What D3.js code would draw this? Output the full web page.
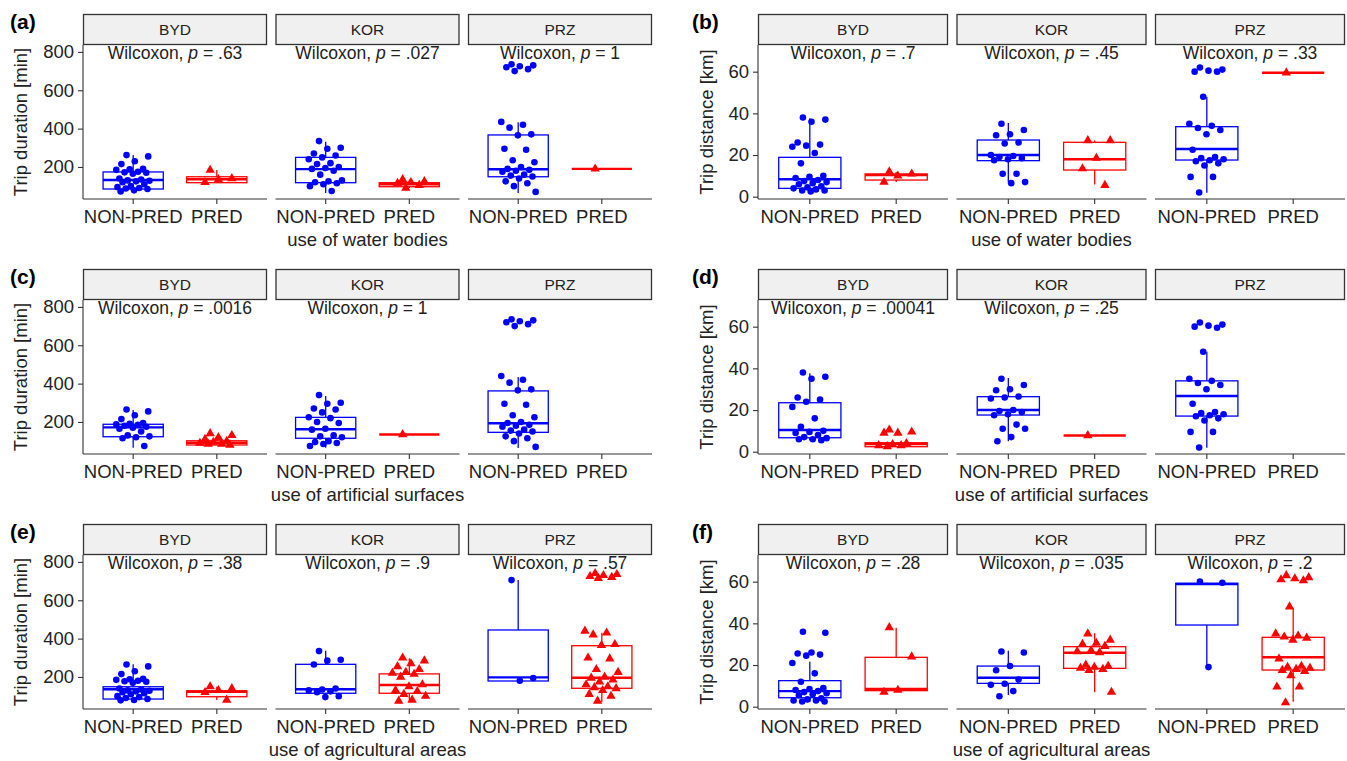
<!DOCTYPE html>
<html>
<head>
<meta charset="utf-8">
<script src="https://cdn.jsdelivr.net/npm/d3@7"></script>
<style>
  body { margin: 0; background: #fff; }
  svg { display: block; font-family: "Liberation Sans", Arial, sans-serif; }
</style>
</head>
<body>
<script>
// facets and groups
const facets = ["BYD", "KOR", "PRZ"];
const groups = ["NON-PRED", "PRED"];

const panelLabels = ["(a)", "(b)", "(c)", "(d)", "(e)", "(f)"];
const yTitles = ["Trip duration [min]", "Trip distance [km]"];
const xTitles = ["use of water bodies", "use of artificial surfaces", "use of agricultural areas"];
const durTicks = [200, 400, 600, 800];
const distTicks = [0, 20, 40, 60];
const durDomain = [33, 836];
const distDomain = [-1.1, 72.8];

// p-values per panel, one per facet (null = no label)
const pValues = [
  [".63", ".027", "1"],
  [".7", ".45", ".33"],
  [".0016", "1", null],
  [".00041", ".25", null],
  [".38", ".9", ".57"],
  [".28", ".035", ".2"]
];

// box stats: facet, group, lower whisker, q1, median, q3, upper whisker
const boxesA = [
  ["BYD", "NON-PRED", 71, 85, 132, 174, 263],
  ["BYD", "PRED", 118, 118, 136, 149, 184],
  ["KOR", "NON-PRED", 64, 118, 189, 250, 332],
  ["KOR", "PRED", 90, 97, 110, 118, 135],
  ["PRZ", "NON-PRED", 64, 149, 188, 367, 433],
  ["PRZ", "PRED", 190, 190, 190, 190, 190]
];
const boxesB = [
  ["BYD", "NON-PRED", 1.6, 4.0, 8.4, 18.9, 37.6],
  ["BYD", "PRED", 7, 8.0, 10.4, 10.9, 12],
  ["KOR", "NON-PRED", 6.7, 17.3, 20, 27.2, 35.4],
  ["KOR", "PRED", 5.9, 12.8, 18, 26.1, 27],
  ["PRZ", "NON-PRED", 1.9, 17.6, 22.9, 33.6, 48],
  ["PRZ", "PRED", 59.5, 59.5, 59.5, 59.5, 59.5]
];
const boxesC = [
  ["BYD", "NON-PRED", 66, 123, 172, 188, 263],
  ["BYD", "PRED", 80, 80, 92, 102, 110],
  ["KOR", "NON-PRED", 66, 115, 162, 224, 336],
  ["KOR", "PRED", 135, 135, 135, 135, 135],
  ["PRZ", "NON-PRED", 64, 146, 193, 362, 435]
];
const boxesD = [
  ["BYD", "NON-PRED", 5.5, 6.7, 10.4, 23.5, 37.6],
  ["BYD", "PRED", 2.4, 2.4, 3.7, 4.3, 4.6],
  ["KOR", "NON-PRED", 5, 17.6, 20, 26.4, 35.4],
  ["KOR", "PRED", 7.8, 7.8, 7.8, 7.8, 7.8],
  ["PRZ", "NON-PRED", 1.9, 17.1, 26.7, 34, 48]
];
const boxesE = [
  ["BYD", "NON-PRED", 75, 85, 136, 149, 266],
  ["BYD", "PRED", 80, 97, 123, 128, 150],
  ["KOR", "NON-PRED", 95, 115, 136, 266, 337],
  ["KOR", "PRED", 71, 115, 158, 216, 297],
  ["PRZ", "NON-PRED", 179, 179, 198, 445, 706],
  ["PRZ", "PRED", 68, 141, 196, 363, 431]
];
const boxesF = [
  ["BYD", "NON-PRED", 2.4, 4.3, 7.5, 12.5, 21.6],
  ["BYD", "PRED", 7, 7.7, 8.5, 23.7, 37.9],
  ["KOR", "NON-PRED", 5.6, 11.2, 13.9, 19.5, 26.9],
  ["KOR", "PRED", 6.9, 18.4, 25.9, 28.8, 35.2],
  ["PRZ", "NON-PRED", 19.5, 39.2, 58.9, 59.2, 59.5],
  ["PRZ", "PRED", 2.4, 17.6, 23.7, 33.3, 47.2]
];

// individual trips: facet, group, values
const pointsA = [
  ["BYD", "NON-PRED", [262, 255, 230, 215, 190, 188, 185, 175, 172, 170, 165, 140, 135, 130, 128, 125, 120, 110, 100, 95, 90, 88, 85, 78, 72]],
  ["BYD", "PRED", [184, 140, 135, 120]],
  ["KOR", "NON-PRED", [335, 300, 295, 270, 260, 250, 240, 220, 215, 200, 195, 190, 180, 160, 130, 125, 120, 115, 110, 100, 75]],
  ["KOR", "PRED", [135, 125, 120, 115, 105, 90]],
  ["PRZ", "NON-PRED", [735, 730, 725, 720, 710, 700, 435, 420, 405, 370, 365, 295, 290, 235, 225, 200, 190, 185, 180, 175, 160, 155, 150, 140, 125, 115, 100, 70]],
  ["PRZ", "PRED", [190]]
];
const pointsB = [
  ["BYD", "NON-PRED", [38, 37, 36, 26, 25, 24.5, 24, 21, 16, 10, 9.5, 9, 8, 7.5, 7, 6.5, 6, 5, 4.5, 4, 3.5, 3, 3, 2.5]],
  ["BYD", "PRED", [12, 11, 10, 7]],
  ["KOR", "NON-PRED", [35, 32, 30, 29.5, 26, 25.5, 20, 19.5, 19, 18.5, 18, 17.5, 11, 11, 7, 6.5]],
  ["KOR", "PRED", [27, 27, 18.5, 13.5, 5.5]],
  ["PRZ", "NON-PRED", [62, 61, 60.5, 60, 60, 48, 35, 34, 33, 32, 30, 22.5, 19, 18.5, 18, 17.5, 17, 16, 15, 9.5, 9.5, 2]],
  ["PRZ", "PRED", [59.5]]
];
const pointsC = [
  ["BYD", "NON-PRED", [265, 255, 235, 215, 195, 190, 188, 185, 180, 175, 170, 165, 150, 130, 125, 120, 115, 75]],
  ["BYD", "PRED", [140, 130, 120, 110, 100, 95, 90, 85, 85, 80]],
  ["KOR", "NON-PRED", [340, 300, 295, 270, 265, 250, 225, 220, 200, 195, 165, 160, 130, 125, 120, 100, 95, 90, 85, 75]],
  ["KOR", "PRED", [135]],
  ["PRZ", "NON-PRED", [735, 730, 725, 720, 710, 700, 440, 420, 405, 370, 365, 295, 290, 235, 225, 200, 195, 185, 180, 175, 160, 155, 150, 140, 125, 115, 100, 70]]
];
const pointsD = [
  ["BYD", "NON-PRED", [38, 36, 35, 26, 25, 24, 21.5, 16, 12, 10, 9.5, 9, 8, 7, 6.5, 6, 6, 5.5]],
  ["BYD", "PRED", [10.5, 9.5, 9, 9, 4, 3.5, 3, 3, 2.5]],
  ["KOR", "NON-PRED", [35, 32, 30, 29.5, 26.5, 26, 25.5, 20, 19.5, 19, 18, 17.5, 13, 11, 11, 7, 5]],
  ["KOR", "PRED", [7.8]],
  ["PRZ", "NON-PRED", [62, 61, 60.5, 60, 59.5, 48, 35, 34, 33, 32, 30, 23, 19, 18.5, 18, 17.5, 17, 16, 15, 9.5, 9.5, 2]]
];
const pointsE = [
  ["BYD", "NON-PRED", [265, 255, 230, 215, 190, 188, 185, 180, 178, 175, 170, 140, 135, 130, 128, 125, 120, 115, 110, 100, 95, 90, 85, 80, 78]],
  ["BYD", "PRED", [150, 140, 130, 120, 80]],
  ["KOR", "NON-PRED", [335, 290, 285, 265, 140, 135, 130, 125, 120, 100, 95]],
  ["KOR", "PRED", [300, 285, 270, 255, 240, 225, 220, 215, 200, 160, 150, 130, 125, 110, 100, 80, 75]],
  ["PRZ", "NON-PRED", [705, 195, 180]],
  ["PRZ", "PRED", [740, 735, 730, 725, 720, 715, 440, 430, 420, 370, 365, 300, 295, 240, 225, 200, 195, 185, 175, 160, 150, 145, 140, 130, 110, 100, 75]]
];
const pointsF = [
  ["BYD", "NON-PRED", [36, 35.5, 26, 25.5, 25, 24.5, 21, 16, 12, 9, 8.5, 8, 7.5, 7, 6.5, 6, 5.5, 4, 3.5, 3, 3, 2.5, 2.5]],
  ["BYD", "PRED", [38, 24, 8, 7]],
  ["KOR", "NON-PRED", [26.5, 26, 19.5, 17.5, 13, 11, 10.5, 7.5, 5]],
  ["KOR", "PRED", [35, 32, 30.5, 30, 29, 27, 26.5, 26, 20, 19.5, 19, 18.5, 18, 17.5, 7]],
  ["PRZ", "NON-PRED", [60, 59.5, 19]],
  ["PRZ", "PRED", [63, 62, 61.5, 61, 60.5, 48, 35, 34, 33.5, 33, 32, 23, 19.5, 19, 18.5, 18, 17.5, 17, 15, 9.5, 9.5, 2]]
];

const allBoxes = [boxesA, boxesB, boxesC, boxesD, boxesE, boxesF];
const allPoints = [pointsA, pointsB, pointsC, pointsD, pointsE, pointsF];

const W = 1347, H = 761;
const colors = {"NON-PRED": "#0000ff", "PRED": "#ff0000"};

// layout
const colLeft = [83, 758];
const facetW = [184, 190];
const facetGap = 8.5;
const rowTop = [45, 300, 555];
const panelH = 154;
const stripH = 31;

const svg = d3.select("body").append("svg")
  .attr("width", W)
  .attr("height", H)
  .attr("viewBox", [0, 0, W, H]);

svg.append("rect").attr("width", W).attr("height", H).attr("fill", "#fff");

panelLabels.forEach((lab, pi) => {
  const col = pi % 2, row = Math.floor(pi / 2);
  const left = colLeft[col], top = rowTop[row];
  const fw = facetW[col];
  const isDur = col === 0;

  const y = d3.scaleLinear()
    .domain(isDur ? durDomain : distDomain)
    .range([top + panelH, top]);

  const g = svg.append("g");

  // panel tag
  g.append("text")
    .attr("x", left - (col === 0 ? 73 : 66))
    .attr("y", top - 16)
    .attr("font-size", 21)
    .attr("font-weight", "bold")
    .attr("fill", "#000")
    .text(lab);

  // y title
  g.append("text")
    .attr("transform", `translate(${left - (col === 0 ? 63 : 52)},${top + panelH / 2}) rotate(-90)`)
    .attr("text-anchor", "middle")
    .attr("dominant-baseline", "central")
    .attr("font-size", 18.5)
    .attr("fill", "#222")
    .text(yTitles[col]);

  // x title
  const totalW = fw * 3 + facetGap * 2;
  g.append("text")
    .attr("x", left + totalW / 2)
    .attr("y", top + panelH + 47)
    .attr("text-anchor", "middle")
    .attr("font-size", 18.5)
    .attr("fill", "#222")
    .text(xTitles[row]);

  // y axis on first facet
  const yAxis = d3.axisLeft(y)
    .tickValues(isDur ? durTicks : distTicks)
    .tickSize(5)
    .tickPadding(4);
  const ya = g.append("g")
    .attr("transform", `translate(${left},0)`)
    .call(yAxis);
  ya.select(".domain").attr("d", `M0,${top}V${top + panelH}`).attr("stroke", "#333").attr("stroke-width", 1.1);
  ya.selectAll(".tick line").attr("stroke", "#333").attr("stroke-width", 1.1);
  ya.selectAll(".tick text")
    .attr("font-size", 18.5)
    .attr("font-family", "Liberation Sans, Arial, sans-serif")
    .attr("fill", "#222");

  facets.forEach((f, fi) => {
    const fx = left + fi * (fw + facetGap);
    // discrete axis with 0.6 unit expansion on each side
    const step = fw / 2.2;
    const cx = grp => fx + step * (0.6 + groups.indexOf(grp));

    // strip
    g.append("rect")
      .attr("x", fx + 0.5)
      .attr("y", top - stripH + 0.5)
      .attr("width", fw - 1)
      .attr("height", stripH - 1)
      .attr("fill", "#f0f0f0")
      .attr("stroke", "#333")
      .attr("stroke-width", 1.3);
    g.append("text")
      .attr("x", fx + fw / 2)
      .attr("y", top - stripH / 2)
      .attr("text-anchor", "middle")
      .attr("dominant-baseline", "central")
      .attr("font-size", 15.5)
      .attr("fill", "#222")
      .text(f);

    // bottom axis
    const xa = g.append("g")
      .attr("transform", `translate(0,${top + panelH})`);
    xa.append("line")
      .attr("x1", fx).attr("x2", fx + fw)
      .attr("stroke", "#333").attr("stroke-width", 1.1);
    groups.forEach(gr => {
      xa.append("line")
        .attr("x1", cx(gr)).attr("x2", cx(gr))
        .attr("y1", 0).attr("y2", 5)
        .attr("stroke", "#333").attr("stroke-width", 1.1);
      xa.append("text")
        .attr("x", cx(gr))
        .attr("y", 24)
        .attr("text-anchor", "middle")
        .attr("font-size", 18.5)
        .attr("fill", "#222")
        .text(gr);
    });

    // p label
    const p = pValues[pi][fi];
    if (p) {
      const t = g.append("text")
        .attr("x", fx + fw / 2)
        .attr("y", top + 14)
        .attr("text-anchor", "middle")
        .attr("font-size", 17.5)
        .attr("fill", "#222");
      t.append("tspan").text("Wilcoxon, ");
      t.append("tspan").attr("font-style", "italic").text("p");
      t.append("tspan").text(" = " + p);
    }

    const bw = step * 0.72;

    // boxes
    allBoxes[pi].filter(b => b[0] === f).forEach(b => {
      const [, gr, lo, q1, med, q3, hi] = b;
      const c = cx(gr), col2 = colors[gr];
      const bg = g.append("g").attr("stroke", col2).attr("fill", "none");
      bg.append("line").attr("x1", c).attr("x2", c).attr("y1", y(hi)).attr("y2", y(q3)).attr("stroke-width", 1.3);
      bg.append("line").attr("x1", c).attr("x2", c).attr("y1", y(q1)).attr("y2", y(lo)).attr("stroke-width", 1.3);
      bg.append("rect")
        .attr("x", c - bw / 2)
        .attr("y", y(q3))
        .attr("width", bw)
        .attr("height", Math.max(0, y(q1) - y(q3)))
        .attr("fill", "#fff")
        .attr("stroke-width", 1.3);
      bg.append("line")
        .attr("x1", c - bw / 2).attr("x2", c + bw / 2)
        .attr("y1", y(med)).attr("y2", y(med))
        .attr("stroke-width", 2.4);
    });

    // jittered points (deterministic spread)
    allPoints[pi].filter(p => p[0] === f).forEach(p => {
      const [, gr, vals] = p;
      const c = cx(gr);
      vals.forEach((v, i) => {
        const j = (((i * 0.6180339887 + 0.31) % 1) - 0.5) * 0.42 * step;
        if (gr === "NON-PRED") {
          g.append("circle")
            .attr("cx", c + j)
            .attr("cy", y(v))
            .attr("r", 3.3)
            .attr("fill", colors[gr]);
        } else {
          g.append("path")
            .attr("transform", `translate(${c + j},${y(v)})`)
            .attr("d", d3.symbol(d3.symbolTriangle, 38)())
            .attr("fill", colors[gr]);
        }
      });
    });
  });
});
</script>
</body>
</html>
